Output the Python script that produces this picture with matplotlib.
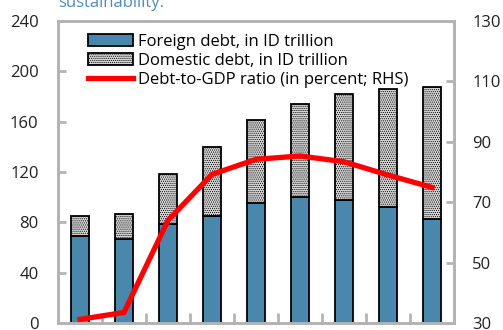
import matplotlib
matplotlib.use("Agg")
import matplotlib.pyplot as plt
import numpy as np

plt.rcParams['font.family'] = ['Open Sans', 'DejaVu Sans']
plt.rcParams['hatch.linewidth'] = 0.5
plt.rcParams['hatch.color'] = '#acacac'

# values
foreign = [69, 67, 79, 84.8, 95.4, 100.4, 97.5, 92.2, 82.9]
total = [85, 87, 118.2, 140, 161.4, 173.8, 181.8, 185.8, 187.4]
domestic = [t - f for t, f in zip(total, foreign)]
ratio = [31.2, 33.5, 64, 79.2, 84.2, 85.3, 83.4, 79, 74.9]

left_ticks = [0, 40, 80, 120, 160, 200, 240]
right_ticks = [30, 50, 70, 90, 110, 130]

blue = '#4a87ad'
grey_spine = '#b4b4b4'

fig = plt.figure(figsize=(5.03, 3.30), dpi=100)
ax = fig.add_axes([58/503, 7/330, 396/503, 302/330])
x = np.arange(len(foreign))

b1 = ax.bar(x, foreign, width=0.41, color=blue, edgecolor='black', linewidth=1.3,
            label='Foreign debt, in ID trillion')
b2 = ax.bar(x, domestic, width=0.41, bottom=foreign, color='#d4d4d4', edgecolor='black',
            linewidth=1.3, hatch='........', label='Domestic debt, in ID trillion')

ax.set_xlim(-0.5, len(foreign) - 0.5)
ax.set_ylim(0, 240)
ax.set_yticks(left_ticks)
ax.set_xticks(x[:-1] + 0.5)
ax.set_xticklabels([])

ax2 = ax.twinx()
ln, = ax2.plot(x, ratio, color='#ff0000', linewidth=3.8, solid_joinstyle='miter',
               label='Debt-to-GDP ratio (in percent; RHS)')
ax2.set_ylim(30, 130)
ax2.set_yticks(right_ticks)

for a in (ax, ax2):
    for s in a.spines.values():
        s.set_color(grey_spine)
        s.set_linewidth(2)
    a.tick_params(direction='in', color=grey_spine, width=2, length=6,
                  labelsize=12, colors='#222222')
    a.tick_params(axis='x', length=7)
ax.tick_params(axis='y', pad=14)
ax2.tick_params(axis='y', pad=13)
for lab in ax.get_yticklabels() + ax2.get_yticklabels():
    lab.set_color('#222222')

leg = ax.legend(handles=[b1, b2, ln], loc='upper left', bbox_to_anchor=(0.055, 0.985),
                frameon=False, fontsize=12, handlelength=2.7, handleheight=0.65,
                handletextpad=0.3, labelspacing=0.18, borderaxespad=0.1)

fig.text(58/503, 0.992, 'sustainability.', color='#4f8cc0', fontsize=12,
         ha='left', va='center')

fig.savefig('out.png', dpi=100)
